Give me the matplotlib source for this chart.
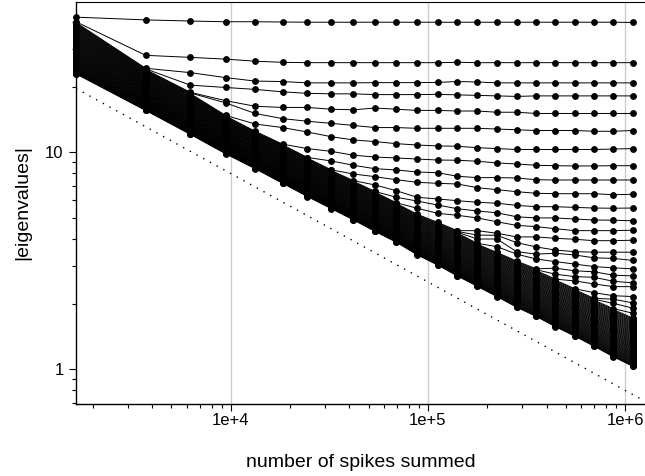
import numpy as np
import matplotlib.pyplot as plt
from matplotlib.ticker import LogLocator, NullFormatter

plt.rcParams['font.family'] = ['Liberation Sans', 'DejaVu Sans']

# number of spikes summed (x positions of the columns of points)
spikes = [1640, 3700, 6240, 9410, 13300, 18300, 24500, 32300, 41900, 53800, 69100, 88100,
          112000, 141000, 178000, 224000, 282000, 354000, 443000, 555000, 696000, 873000, 1095000]

# eigenvalues that stand out of the noise band, listed from the column where they leave it
eig01 = [42.0, 40.8, 40.3, 40.0, 40.0, 39.9, 39.8, 39.8, 39.8, 39.8, 39.8, 39.8,
         39.8, 39.8, 39.8, 39.8, 39.8, 39.8, 39.8, 39.8, 39.8, 39.8, 39.7]
eig02 = [28.0, 27.4, 26.9, 26.3, 26.0, 25.9, 25.9, 25.9, 25.9, 25.9, 25.9,
         25.9, 26.0, 25.9, 25.9, 25.9, 25.9, 25.9, 25.9, 25.9, 25.9, 25.9]
eig03 = [23.3, 22.1, 21.3, 21.2, 20.9, 20.9, 20.9, 20.95, 20.95, 20.95, 21.0,
         21.2, 21.1, 20.9, 20.9, 20.9, 20.9, 20.9, 20.9, 20.9, 20.9]
eig04 = [20.4, 19.9, 19.5, 19.0, 18.7, 18.6, 18.6, 18.45, 18.45, 18.45, 18.5,
         18.4, 18.3, 18.2, 18.1, 18.2, 18.2, 18.2, 18.2, 18.2, 18.2]
eig05 = [17.3, 16.3, 16.1, 16.1, 15.8, 15.7, 16.0, 15.8, 15.6, 15.6,
         15.5, 15.5, 15.3, 15.3, 15.1, 15.1, 15.1, 15.1, 15.1, 15.1]
eig06 = [16.9, 15.1, 14.3, 13.9, 13.6, 13.3, 13.0, 13.0, 12.9, 12.9,
         12.9, 12.9, 12.8, 12.7, 12.6, 12.6, 12.6, 12.5, 12.5, 12.6]
eig07 = [13.5, 13.0, 12.4, 11.8, 11.4, 11.2, 10.96, 10.8, 10.7, 10.66,
         10.5, 10.4, 10.3, 10.3, 10.3, 10.3, 10.3, 10.35, 10.4]
eig08 = [10.4, 10.1, 9.69, 9.51, 9.41, 9.31, 9.21, 9.19, 9.09,
         8.93, 8.83, 8.71, 8.67, 8.65, 8.65, 8.67, 8.67]
eig09 = [9.12, 8.71, 8.40, 8.29, 8.11, 8.05, 7.75, 7.64,
         7.64, 7.61, 7.47, 7.45, 7.45, 7.45, 7.45, 7.45]
eig10 = [7.94, 7.72, 7.47, 7.27, 7.19, 7.14, 6.87, 6.72,
         6.58, 6.47, 6.44, 6.44, 6.44, 6.37, 6.40]
eig11 = [7.07, 6.65, 6.20, 6.09, 5.98, 5.88, 5.82,
         5.69, 5.61, 5.61, 5.57, 5.53, 5.52, 5.53]
eig12 = [6.20, 5.96, 5.71, 5.49, 5.36, 5.26, 5.04,
         4.98, 4.98, 4.92, 4.87, 4.86, 4.83]
eig13 = [5.52, 5.23, 5.12, 4.98, 4.78, 4.60,
         4.54, 4.44, 4.35, 4.35, 4.35, 4.37]
eig14 = [4.35, 4.23, 4.07, 4.07, 4.01, 3.97, 3.91, 3.91, 3.93]
eig15 = [4.15, 4.14, 3.83, 3.66, 3.54, 3.48, 3.46, 3.46, 3.46]
eig16 = [3.98, 3.98, 3.48, 3.39, 3.42, 3.36, 3.26, 3.24, 3.17]
eig17 = [3.67, 3.39, 3.22, 3.13, 3.05, 2.97, 2.93, 2.90]
eig18 = [2.92, 2.84, 2.81, 2.71, 2.69]
eig19 = [2.74, 2.67, 2.65, 2.54, 2.50]
eig20 = [2.55, 2.47, 2.40, 2.40]
eig21 = [2.25, 2.18, 2.16]
eig22 = [2.10, 2.02]
eig23 = [2.01, 1.91]
eig24 = [1.81]

# column where each of them leaves the noise band
leave_col = [0, 1, 2, 2, 3, 3, 4, 6, 7, 8, 9, 10, 11, 14, 14, 14, 15, 18, 18, 19, 20, 21, 21, 22]
separated = [eig01, eig02, eig03, eig04, eig05, eig06, eig07, eig08, eig09, eig10, eig11, eig12,
             eig13, eig14, eig15, eig16, eig17, eig18, eig19, eig20, eig21, eig22, eig23, eig24]

# upper and lower edge of the noise band in each column
band_top = [40.0, 24.4, 18.9, 14.8, 12.5, 10.9, 9.46, 8.3, 7.4, 6.6, 5.85, 5.18,
            4.75, 4.35, 3.8, 3.45, 3.15, 2.9, 2.6, 2.35, 2.12, 1.9, 1.72]
band_bottom = [23.0, 15.6, 12.1, 9.85, 8.4, 7.2, 6.25, 5.5, 4.88, 4.32, 3.85, 3.37,
               3.02, 2.69, 2.41, 2.16, 1.93, 1.75, 1.57, 1.42, 1.275, 1.14, 1.03]
n_eig = 80

# dotted reference line
ref_x = [1640, 1263000]
ref_y = [19.7, 0.71]

ncol = len(spikes)
vals = np.zeros((n_eig, ncol))
for j in range(ncol):
    sep = [s[j - c] for s, c in zip(separated, leave_col) if c <= j]
    t = np.linspace(0, 1, n_eig - len(sep))
    t = 1 - (1 - t) ** 1.15  # a little tighter near the lower edge
    band = band_top[j] * (band_bottom[j] / band_top[j]) ** t
    vals[:, j] = np.sort(np.concatenate([sep, band]))[::-1]

fig = plt.figure(figsize=(6.45, 4.76), dpi=100)
ax = fig.add_axes([76 / 645, 1 - 404 / 476, 1 - 76 / 645, (404 - 1.5) / 476])

for i in range(n_eig):
    ax.plot(spikes, vals[i], '-o', color='black', lw=0.7, ms=3.9, clip_on=False, zorder=3)

ax.plot(ref_x, ref_y, color='black', lw=1.0, linestyle=(0, (1, 4.5)), zorder=3)

ax.set_xscale('log')
ax.set_yscale('log')
ax.set_xlim(1640, 1263000)
ax.set_ylim(0.69, 49.6)

ax.set_xticks([1e4, 1e5, 1e6], labels=['1e+4', '1e+5', '1e+6'])
ax.set_yticks([1, 10], labels=['1', '10'])
ax.xaxis.set_minor_locator(LogLocator(base=10, subs=range(2, 10)))
ax.yaxis.set_minor_locator(LogLocator(base=10, subs=range(2, 10)))
ax.xaxis.set_minor_formatter(NullFormatter())
ax.yaxis.set_minor_formatter(NullFormatter())
ax.tick_params(which='major', direction='out', length=5, width=0.8, labelsize=12)
ax.tick_params(which='minor', direction='out', length=3, width=0.8)
ax.tick_params(axis='x', pad=1.5)
ax.tick_params(axis='y', pad=4)

ax.grid(axis='x', which='major', color='#cccccc', lw=1.0, zorder=0)
ax.set_axisbelow(True)
ax.spines['right'].set_visible(False)
ax.spines['top'].set_linewidth(0.8)
ax.spines['left'].set_linewidth(1.0)
ax.spines['bottom'].set_linewidth(1.0)

ax.set_xlabel('number of spikes summed', fontsize=14, labelpad=19)
ax.set_ylabel('|eigenvalues|', fontsize=14, labelpad=10)

fig.savefig('out.png', dpi=100)
